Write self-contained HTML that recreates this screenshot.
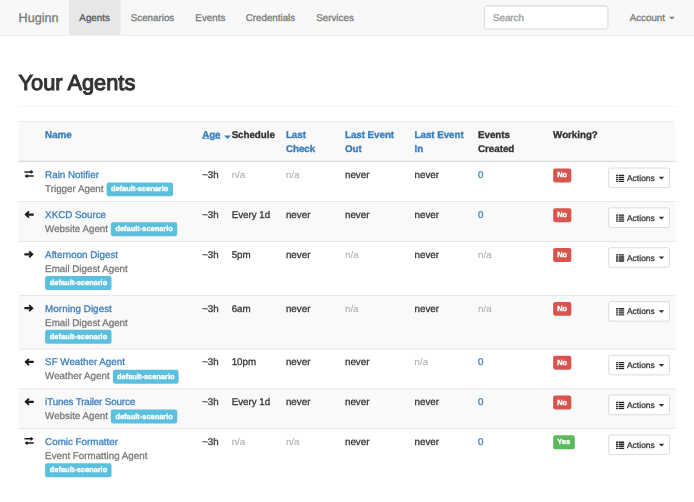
<!DOCTYPE html>
<html><head><meta charset="utf-8"><title>Huginn</title>
<style>
html,body{margin:0;padding:0;background:#fff;overflow:hidden;}
body{width:694px;height:502px;}
#w{width:994px;height:720px;transform:translateX(-0.3px) scale(0.6988);transform-origin:0 0;font-family:"Liberation Sans",sans-serif;font-size:14px;line-height:20px;color:#333;position:relative;-webkit-text-stroke:0.4px;text-rendering:geometricPrecision;backface-visibility:hidden;}
a{color:#387dbd;text-decoration:none;}
#nav{position:absolute;left:0;top:0;width:994px;height:50px;background:#f8f8f8;border-bottom:1px solid #e7e7e7;}
#nav .brand{position:absolute;left:27px;top:15px;font-size:18px;line-height:20px;color:#777;}
#nav .it{position:absolute;top:0;height:50px;line-height:50px;padding:0 15px;color:#777;}
#nav .it.act{background:#e7e7e7;color:#555;}
#search{position:absolute;left:692.8px;top:8.4px;width:178.4px;height:34px;box-sizing:border-box;border:1px solid #ccc;border-radius:4px;background:#fff;box-shadow:inset 0 1px 1px rgba(0,0,0,.075);padding:6px 12px;color:#999;line-height:20px;}
.caret{display:inline-block;width:0;height:0;margin-left:2px;vertical-align:middle;border-top:4px solid;border-right:4px solid transparent;border-left:4px solid transparent;}
h2{position:absolute;left:27px;top:101.7px;margin:0;font-size:31.2px;line-height:33px;font-weight:normal;-webkit-text-stroke:1.5px #333;color:#333;}
#hr{position:absolute;left:27px;top:151.8px;width:940px;height:1px;background:#eee;}
table{position:absolute;left:27px;top:173.4px;width:940px;border-collapse:collapse;table-layout:fixed;}
td,th{padding:8px;vertical-align:top;border-top:1px solid transparent;text-align:left;line-height:20px;white-space:nowrap;overflow:visible;}
.ln{position:absolute;left:27px;width:940px;height:1px;background:#ddd;}
.st{position:absolute;left:27px;width:940px;background:#f9f9f9;}
th{font-weight:bold;white-space:normal;font-size:14px;letter-spacing:-0.05px;-webkit-text-stroke:0.5px;}
th.nw{white-space:nowrap;}
th .caret{position:relative;top:2.6px;margin-left:1px;border-top-width:5px;border-left-width:5.2px;border-right-width:5.2px;}
tr.h th{border-bottom:2px solid transparent;padding-top:8.1px;padding-bottom:7.9px;}
.mu{color:#a6a6a6;-webkit-text-stroke:0;} .ty{color:#777;}
.gi{width:14px;height:14px;display:inline-block;vertical-align:-1.5px;fill:#1c1c1c;}
.lab{display:inline-block;font-size:10.65px;-webkit-text-stroke:0.5px;font-weight:bold;color:#fff;line-height:21.6px;height:20px;overflow:hidden;padding:0 6.3px;border-radius:3px;vertical-align:top;position:relative;margin-bottom:-2px;}
.lab.info{background:#5bc0de;top:0.8px;left:0.4px;}
.lab.no{background:#d9534f;top:1px;left:-0.4px;}
.lab.ok{background:#5cb85c;top:1px;left:-0.4px;}
.btn{display:inline-block;box-sizing:border-box;height:29px;width:88.5px;margin-top:-0.5px;margin-left:0.6px;white-space:nowrap;padding:5.3px 0 0 10.5px;letter-spacing:0.1px;font-size:12px;line-height:18px;border:1px solid #ccc;border-radius:3px;background:#fff;color:#333;}
.li{width:12px;height:12px;display:inline-block;vertical-align:-1.5px;fill:#222;margin-right:0.6px;}
.btn .caret{position:relative;top:-1.3px;margin-left:1.5px;border-top-width:4.4px;border-left-width:4.4px;border-right-width:4.4px;}
u{text-decoration:underline;}
</style></head><body>
<div id="w">
<div id="nav">
<span class="brand">Huginn</span>
<span class="it act" style="left:99px">Agents</span>
<span class="it" style="left:172.5px">Scenarios</span>
<span class="it" style="left:265px">Events</span>
<span class="it" style="left:337px">Credentials</span>
<span class="it" style="left:438px">Services</span>
<div id="search">Search</div>
<span class="it" style="left:886.5px">Account <i class="caret"></i></span>
</div>
<h2>Your Agents</h2>
<div id="hr"></div>
<div class="st" style="top:173.890px;height:57.485px"></div><div class="st" style="top:288.875px;height:57.000px"></div><div class="st" style="top:422.875px;height:77.000px"></div><div class="st" style="top:556.875px;height:57.000px"></div>
<div class="ln" style="top:173.4px"></div><div class="ln" style="top:230.375px;height:2px"></div><div class="ln" style="top:288.375px"></div><div class="ln" style="top:345.375px"></div><div class="ln" style="top:422.375px"></div><div class="ln" style="top:499.375px"></div><div class="ln" style="top:556.375px"></div><div class="ln" style="top:613.375px"></div>
<table>
<colgroup><col style="width:30px"><col style="width:224.7px"><col style="width:42.2px"><col style="width:77.7px"><col style="width:84.5px"><col style="width:99.6px"><col style="width:90.9px"><col style="width:107.4px"><col style="width:78.1px"><col style="width:104.9px"></colgroup>
<tr class="h"><th></th><th><a>Name</a></th><th class="nw"><a><u>Age</u> <i class="caret"></i></a></th><th>Schedule</th><th><a>Last Check</a></th><th><a>Last Event Out</a></th><th><a>Last Event In</a></th><th>Events Created</th><th>Working?</th><th></th></tr>
<tr><td class="ic"><svg class="gi" viewBox="0 0 14 14" style="position:relative;top:-1.3px"><path d="M0.3 2.9h8.9V1l4.3 3-4.3 3V5.1H0.3zM13.7 8.9H4.8V7L.5 10l4.3 3v-1.9h8.9z"/></svg></td><td><a>Rain Notifier</a><br><span class="ty">Trigger Agent</span> <span class="lab info">default-scenario</span></td><td>~3h</td><td><span class="mu">n/a</span></td><td><span class="mu">n/a</span></td><td>never</td><td>never</td><td><a>0</a></td><td><span class="lab no">No</span></td><td><span class="btn"><svg class="li" viewBox="0 0 12 12"><path d="M0 .9h2.7v1.9H0zM3.7 .9H12v1.9H3.7zM0 3.8h2.7v1.9H0zM3.7 3.8H12v1.9H3.7zM0 6.7h2.7v1.9H0zM3.7 6.7H12v1.9H3.7zM0 9.6h2.7v1.9H0zM3.7 9.6H12v1.9H3.7z"/></svg> Actions <i class="caret"></i></span></td></tr>
<tr><td class="ic"><svg class="gi" viewBox="0 0 14 14"><path d="M13.8 5.4H5.9l1.9-1.9-1.8-1.8L.3 7l5.7 5.3 1.8-1.8-1.9-1.9h7.9z"/></svg></td><td><a>XKCD Source</a><br><span class="ty">Website Agent</span> <span class="lab info">default-scenario</span></td><td>~3h</td><td>Every 1d</td><td>never</td><td>never</td><td>never</td><td><a>0</a></td><td><span class="lab no">No</span></td><td><span class="btn"><svg class="li" viewBox="0 0 12 12"><path d="M0 .9h2.7v1.9H0zM3.7 .9H12v1.9H3.7zM0 3.8h2.7v1.9H0zM3.7 3.8H12v1.9H3.7zM0 6.7h2.7v1.9H0zM3.7 6.7H12v1.9H3.7zM0 9.6h2.7v1.9H0zM3.7 9.6H12v1.9H3.7z"/></svg> Actions <i class="caret"></i></span></td></tr>
<tr><td class="ic"><svg class="gi" viewBox="0 0 14 14"><path d="M.2 5.4h7.9L6.2 3.5 8 1.7 13.7 7 8 12.3l-1.8-1.8 1.9-1.9H.2z"/></svg></td><td><a>Afternoon Digest</a><br><span class="ty">Email Digest Agent</span><br><span class="lab info">default-scenario</span></td><td>~3h</td><td>5pm</td><td>never</td><td><span class="mu">n/a</span></td><td>never</td><td><span class="mu">n/a</span></td><td><span class="lab no">No</span></td><td><span class="btn"><svg class="li" viewBox="0 0 12 12"><path d="M0 .9h2.7v1.9H0zM3.7 .9H12v1.9H3.7zM0 3.8h2.7v1.9H0zM3.7 3.8H12v1.9H3.7zM0 6.7h2.7v1.9H0zM3.7 6.7H12v1.9H3.7zM0 9.6h2.7v1.9H0zM3.7 9.6H12v1.9H3.7z"/></svg> Actions <i class="caret"></i></span></td></tr>
<tr><td class="ic"><svg class="gi" viewBox="0 0 14 14"><path d="M.2 5.4h7.9L6.2 3.5 8 1.7 13.7 7 8 12.3l-1.8-1.8 1.9-1.9H.2z"/></svg></td><td><a style="letter-spacing:0.1px">Morning Digest</a><br><span class="ty">Email Digest Agent</span><br><span class="lab info">default-scenario</span></td><td>~3h</td><td>6am</td><td>never</td><td><span class="mu">n/a</span></td><td>never</td><td><span class="mu">n/a</span></td><td><span class="lab no">No</span></td><td><span class="btn"><svg class="li" viewBox="0 0 12 12"><path d="M0 .9h2.7v1.9H0zM3.7 .9H12v1.9H3.7zM0 3.8h2.7v1.9H0zM3.7 3.8H12v1.9H3.7zM0 6.7h2.7v1.9H0zM3.7 6.7H12v1.9H3.7zM0 9.6h2.7v1.9H0zM3.7 9.6H12v1.9H3.7z"/></svg> Actions <i class="caret"></i></span></td></tr>
<tr><td class="ic"><svg class="gi" viewBox="0 0 14 14"><path d="M13.8 5.4H5.9l1.9-1.9-1.8-1.8L.3 7l5.7 5.3 1.8-1.8-1.9-1.9h7.9z"/></svg></td><td><a>SF Weather Agent</a><br><span class="ty">Weather Agent</span> <span class="lab info">default-scenario</span></td><td>~3h</td><td>10pm</td><td>never</td><td>never</td><td><span class="mu">n/a</span></td><td><a>0</a></td><td><span class="lab no">No</span></td><td><span class="btn"><svg class="li" viewBox="0 0 12 12"><path d="M0 .9h2.7v1.9H0zM3.7 .9H12v1.9H3.7zM0 3.8h2.7v1.9H0zM3.7 3.8H12v1.9H3.7zM0 6.7h2.7v1.9H0zM3.7 6.7H12v1.9H3.7zM0 9.6h2.7v1.9H0zM3.7 9.6H12v1.9H3.7z"/></svg> Actions <i class="caret"></i></span></td></tr>
<tr><td class="ic"><svg class="gi" viewBox="0 0 14 14"><path d="M13.8 5.4H5.9l1.9-1.9-1.8-1.8L.3 7l5.7 5.3 1.8-1.8-1.9-1.9h7.9z"/></svg></td><td><a style="letter-spacing:-0.19px">iTunes Trailer Source</a><br><span class="ty">Website Agent</span> <span class="lab info">default-scenario</span></td><td>~3h</td><td>Every 1d</td><td>never</td><td>never</td><td>never</td><td><a>0</a></td><td><span class="lab no">No</span></td><td><span class="btn"><svg class="li" viewBox="0 0 12 12"><path d="M0 .9h2.7v1.9H0zM3.7 .9H12v1.9H3.7zM0 3.8h2.7v1.9H0zM3.7 3.8H12v1.9H3.7zM0 6.7h2.7v1.9H0zM3.7 6.7H12v1.9H3.7zM0 9.6h2.7v1.9H0zM3.7 9.6H12v1.9H3.7z"/></svg> Actions <i class="caret"></i></span></td></tr>
<tr><td class="ic"><svg class="gi" viewBox="0 0 14 14" style="position:relative;top:-1.3px"><path d="M0.3 2.9h8.9V1l4.3 3-4.3 3V5.1H0.3zM13.7 8.9H4.8V7L.5 10l4.3 3v-1.9h8.9z"/></svg></td><td><a>Comic Formatter</a><br><span class="ty">Event Formatting Agent</span><br><span class="lab info">default-scenario</span></td><td>~3h</td><td><span class="mu">n/a</span></td><td><span class="mu">n/a</span></td><td>never</td><td>never</td><td><a>0</a></td><td><span class="lab ok">Yes</span></td><td><span class="btn"><svg class="li" viewBox="0 0 12 12"><path d="M0 .9h2.7v1.9H0zM3.7 .9H12v1.9H3.7zM0 3.8h2.7v1.9H0zM3.7 3.8H12v1.9H3.7zM0 6.7h2.7v1.9H0zM3.7 6.7H12v1.9H3.7zM0 9.6h2.7v1.9H0zM3.7 9.6H12v1.9H3.7z"/></svg> Actions <i class="caret"></i></span></td></tr>
</table>
</div>
</body></html>
